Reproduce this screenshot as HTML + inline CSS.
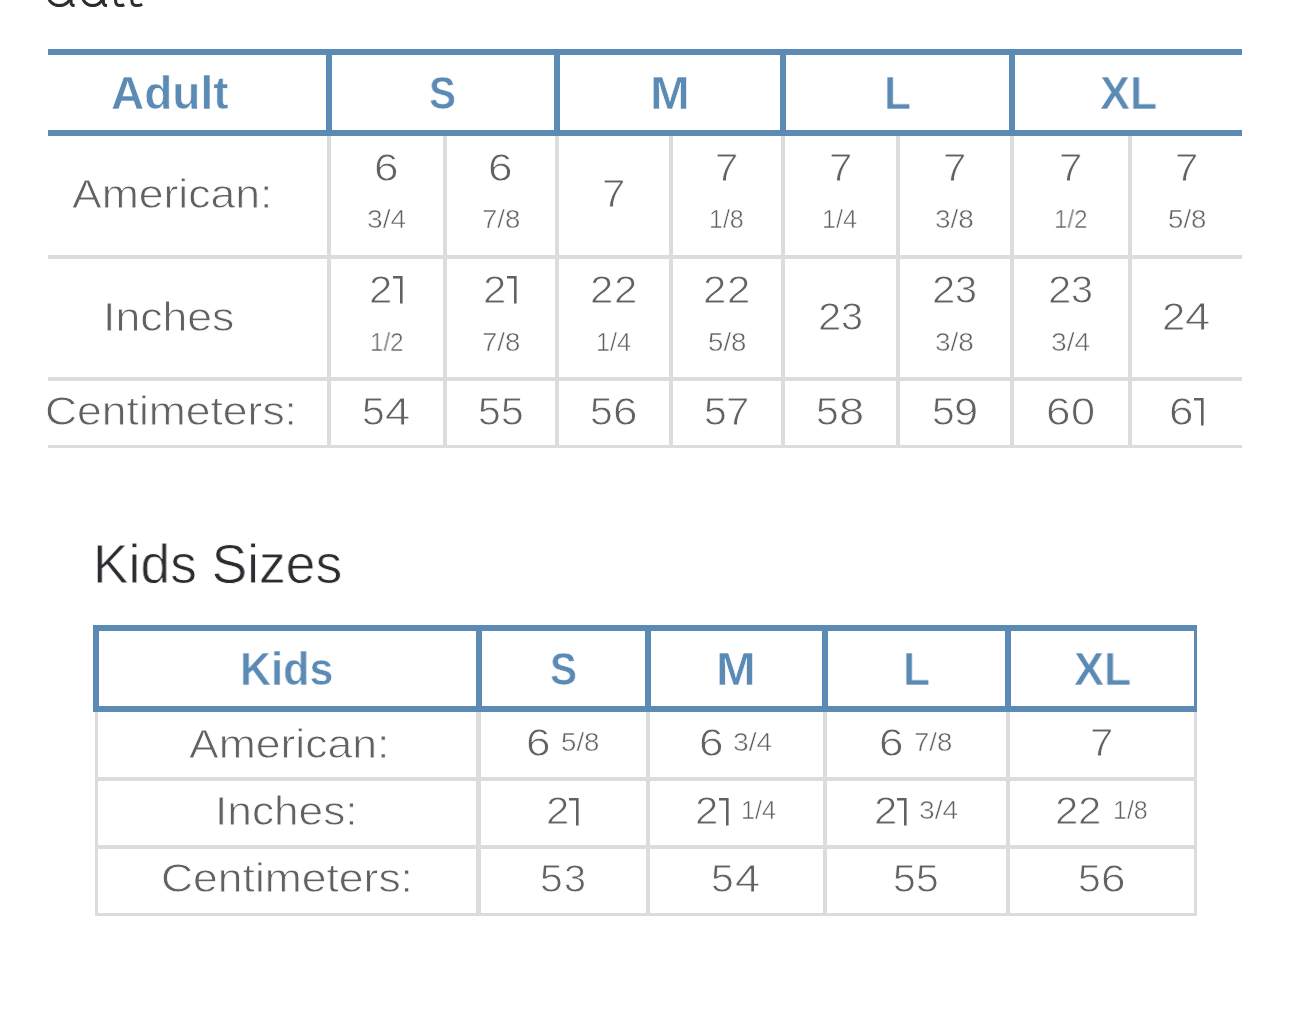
<!DOCTYPE html>
<html><head><meta charset="utf-8"><style>
html,body{margin:0;padding:0;background:#fff;width:1290px;height:1016px;overflow:hidden;}
body{position:relative;font-family:"Liberation Sans",sans-serif;}
div,span{position:absolute;}
span{line-height:1;white-space:nowrap;transform-origin:0 0;will-change:transform;}
.t{-webkit-text-stroke:0.8px #fff;}
.f{-webkit-text-stroke:0.5px #fff;}
.b{-webkit-text-stroke:0.6px #fff;}
.h{-webkit-text-stroke:0.8px #fff;}
</style></head><body>
<svg style="position:absolute;left:0;top:0" width="200" height="12" viewBox="0 0 200 12"><g fill="none" stroke="#2b2d30" stroke-width="3"><ellipse cx="59.4" cy="-4.6" rx="11.2" ry="10.2"/><path d="M70.9,-4 L71.1,3.2 Q71.5,5.6 74.6,5.6"/><ellipse cx="92.7" cy="-4.6" rx="10.4" ry="10.2"/><path d="M103.3,-4 L103.5,3.2 Q103.9,5.6 107,5.6"/><path d="M115.6,-4 L115.6,1 Q115.8,5.6 120,5.6 Q122.5,5.6 124.2,4.6"/><path d="M131.9,-4 L131.9,1 Q132.1,5.6 136.6,5.6 Q139.8,5.6 142.2,4.2"/></g></svg>
<div style="left:48px;top:49px;width:1194px;height:6px;background:#5b8ab5"></div>
<div style="left:48px;top:130px;width:1194px;height:6px;background:#5b8ab5"></div>
<div style="left:326px;top:49px;width:6px;height:87px;background:#5b8ab5"></div>
<div style="left:554px;top:49px;width:6px;height:87px;background:#5b8ab5"></div>
<div style="left:780px;top:49px;width:6px;height:87px;background:#5b8ab5"></div>
<div style="left:1009px;top:49px;width:6px;height:87px;background:#5b8ab5"></div>
<div style="left:327px;top:136px;width:4px;height:312px;background:#dcdcdc"></div>
<div style="left:443px;top:136px;width:4px;height:312px;background:#dcdcdc"></div>
<div style="left:555px;top:136px;width:4px;height:312px;background:#dcdcdc"></div>
<div style="left:669px;top:136px;width:4px;height:312px;background:#dcdcdc"></div>
<div style="left:781px;top:136px;width:4px;height:312px;background:#dcdcdc"></div>
<div style="left:896px;top:136px;width:4px;height:312px;background:#dcdcdc"></div>
<div style="left:1010px;top:136px;width:4px;height:312px;background:#dcdcdc"></div>
<div style="left:1128px;top:136px;width:4px;height:312px;background:#dcdcdc"></div>
<div style="left:48px;top:255px;width:1194px;height:4px;background:#dcdcdc"></div>
<div style="left:48px;top:377px;width:1194px;height:4px;background:#dcdcdc"></div>
<div style="left:48px;top:445px;width:1194px;height:3px;background:#dcdcdc"></div>
<span class="b" style="left:111.19px;top:70.68px;font-size:45.5px;font-weight:bold;color:#5b8ab5;transform:scaleX(1.0113);">Adult</span>
<span class="b" style="left:429.41px;top:70.68px;font-size:45.5px;font-weight:bold;color:#5b8ab5;transform:scaleX(0.8857);">S</span>
<span class="b" style="left:649.85px;top:70.68px;font-size:45.5px;font-weight:bold;color:#5b8ab5;transform:scaleX(1.0500);">M</span>
<span class="b" style="left:883.89px;top:70.68px;font-size:45.5px;font-weight:bold;color:#5b8ab5;transform:scaleX(0.9708);">L</span>
<span class="b" style="left:1100.21px;top:70.68px;font-size:45.5px;font-weight:bold;color:#5b8ab5;transform:scaleX(0.9875);">XL</span>
<span class="t" style="left:71.50px;top:173.94px;font-size:40px;color:#616161;transform:scaleX(1.1130);">American:</span>
<span class="t" style="left:103.34px;top:296.84px;font-size:40px;color:#616161;transform:scaleX(1.1150);">Inches</span>
<span class="t" style="left:44.78px;top:391.34px;font-size:40px;color:#616161;transform:scaleX(1.1113);">Centimeters:</span>
<span class="t" style="left:374.41px;top:148.91px;font-size:38.5px;color:#616161;transform:scaleX(1.1444);">6</span>
<span class="f" style="left:367.22px;top:207.34px;font-size:25px;color:#616161;transform:scaleX(1.1303);">3/4</span>
<span class="t" style="left:488.41px;top:148.91px;font-size:38.5px;color:#616161;transform:scaleX(1.1444);">6</span>
<span class="f" style="left:481.70px;top:207.34px;font-size:25px;color:#616161;transform:scaleX(1.1030);">7/8</span>
<span class="t" style="left:602.02px;top:175.21px;font-size:38.5px;color:#616161;transform:scaleX(1.0889);">7</span>
<span class="t" style="left:715.02px;top:148.91px;font-size:38.5px;color:#616161;transform:scaleX(1.0889);">7</span>
<span class="f" style="left:709.23px;top:207.34px;font-size:25px;color:#616161;transform:scaleX(0.9875);">1/8</span>
<span class="t" style="left:828.52px;top:148.91px;font-size:38.5px;color:#616161;transform:scaleX(1.0889);">7</span>
<span class="f" style="left:822.27px;top:207.34px;font-size:25px;color:#616161;transform:scaleX(1.0125);">1/4</span>
<span class="t" style="left:943.02px;top:148.91px;font-size:38.5px;color:#616161;transform:scaleX(1.0889);">7</span>
<span class="f" style="left:935.43px;top:207.34px;font-size:25px;color:#616161;transform:scaleX(1.1182);">3/8</span>
<span class="t" style="left:1059.02px;top:148.91px;font-size:38.5px;color:#616161;transform:scaleX(1.0889);">7</span>
<span class="f" style="left:1053.62px;top:207.34px;font-size:25px;color:#616161;transform:scaleX(0.9656);">1/2</span>
<span class="t" style="left:1175.02px;top:148.91px;font-size:38.5px;color:#616161;transform:scaleX(1.0889);">7</span>
<span class="f" style="left:1167.64px;top:207.34px;font-size:25px;color:#616161;transform:scaleX(1.1061);">5/8</span>
<span class="t" style="left:369.27px;top:271.01px;font-size:38.5px;color:#616161;transform:scaleX(1.0889);">2</span>
<svg style="position:absolute;left:390.95px;top:274.20px" width="16" height="33"><path d="M2,3.30 H10.30 V29.40" fill="none" stroke="#616161" stroke-width="2.6"/></svg>
<span class="f" style="left:369.62px;top:329.84px;font-size:25px;color:#616161;transform:scaleX(0.9656);">1/2</span>
<span class="t" style="left:483.27px;top:271.01px;font-size:38.5px;color:#616161;transform:scaleX(1.0889);">2</span>
<svg style="position:absolute;left:504.95px;top:274.20px" width="16" height="33"><path d="M2,3.30 H10.30 V29.40" fill="none" stroke="#616161" stroke-width="2.6"/></svg>
<span class="f" style="left:481.70px;top:329.84px;font-size:25px;color:#616161;transform:scaleX(1.1030);">7/8</span>
<span class="t" style="left:590.27px;top:271.01px;font-size:38.5px;color:#616161;transform:scaleX(1.0889);">2</span>
<span class="t" style="left:613.77px;top:271.01px;font-size:38.5px;color:#616161;transform:scaleX(1.0889);">2</span>
<span class="f" style="left:595.77px;top:329.84px;font-size:25px;color:#616161;transform:scaleX(1.0125);">1/4</span>
<span class="t" style="left:703.27px;top:271.01px;font-size:38.5px;color:#616161;transform:scaleX(1.0889);">2</span>
<span class="t" style="left:726.77px;top:271.01px;font-size:38.5px;color:#616161;transform:scaleX(1.0889);">2</span>
<span class="f" style="left:707.64px;top:329.84px;font-size:25px;color:#616161;transform:scaleX(1.1061);">5/8</span>
<span class="t" style="left:817.77px;top:297.81px;font-size:38.5px;color:#616161;transform:scaleX(1.0889);">2</span>
<span class="t" style="left:840.52px;top:297.81px;font-size:38.5px;color:#616161;transform:scaleX(1.0263);">3</span>
<span class="t" style="left:932.27px;top:271.01px;font-size:38.5px;color:#616161;transform:scaleX(1.0889);">2</span>
<span class="t" style="left:955.02px;top:271.01px;font-size:38.5px;color:#616161;transform:scaleX(1.0263);">3</span>
<span class="f" style="left:935.43px;top:329.84px;font-size:25px;color:#616161;transform:scaleX(1.1182);">3/8</span>
<span class="t" style="left:1048.27px;top:271.01px;font-size:38.5px;color:#616161;transform:scaleX(1.0889);">2</span>
<span class="t" style="left:1071.02px;top:271.01px;font-size:38.5px;color:#616161;transform:scaleX(1.0263);">3</span>
<span class="f" style="left:1051.22px;top:329.84px;font-size:25px;color:#616161;transform:scaleX(1.1303);">3/4</span>
<span class="t" style="left:1162.42px;top:297.81px;font-size:38.5px;color:#616161;transform:scaleX(1.0889);">2</span>
<span class="t" style="left:1184.62px;top:297.81px;font-size:38.5px;color:#616161;transform:scaleX(1.1800);">4</span>
<span class="t" style="left:361.73px;top:392.61px;font-size:38.5px;color:#616161;transform:scaleX(1.0611);">5</span>
<span class="t" style="left:385.37px;top:392.61px;font-size:38.5px;color:#616161;transform:scaleX(1.1800);">4</span>
<span class="t" style="left:477.93px;top:392.61px;font-size:38.5px;color:#616161;transform:scaleX(1.0611);">5</span>
<span class="t" style="left:500.73px;top:392.61px;font-size:38.5px;color:#616161;transform:scaleX(1.0611);">5</span>
<span class="t" style="left:589.93px;top:392.61px;font-size:38.5px;color:#616161;transform:scaleX(1.0611);">5</span>
<span class="t" style="left:613.06px;top:392.61px;font-size:38.5px;color:#616161;transform:scaleX(1.1444);">6</span>
<span class="t" style="left:703.93px;top:392.61px;font-size:38.5px;color:#616161;transform:scaleX(1.0611);">5</span>
<span class="t" style="left:726.17px;top:392.61px;font-size:38.5px;color:#616161;transform:scaleX(1.0889);">7</span>
<span class="t" style="left:816.33px;top:392.61px;font-size:38.5px;color:#616161;transform:scaleX(1.0611);">5</span>
<span class="t" style="left:838.99px;top:392.61px;font-size:38.5px;color:#616161;transform:scaleX(1.1778);">8</span>
<span class="t" style="left:931.73px;top:392.61px;font-size:38.5px;color:#616161;transform:scaleX(1.0611);">5</span>
<span class="t" style="left:953.59px;top:392.61px;font-size:38.5px;color:#616161;transform:scaleX(1.1278);">9</span>
<span class="t" style="left:1046.21px;top:392.61px;font-size:38.5px;color:#616161;transform:scaleX(1.1444);">6</span>
<span class="t" style="left:1070.97px;top:392.61px;font-size:38.5px;color:#616161;transform:scaleX(1.1263);">0</span>
<span class="t" style="left:1168.56px;top:392.61px;font-size:38.5px;color:#616161;transform:scaleX(1.1444);">6</span>
<svg style="position:absolute;left:1191.55px;top:395.80px" width="16" height="33"><path d="M2,3.30 H10.30 V29.40" fill="none" stroke="#616161" stroke-width="2.6"/></svg>
<span class="h" style="left:92.79px;top:536.40px;font-size:56px;color:#2b2d30;transform:scaleX(0.9529);">Kids Sizes</span>
<div style="left:93px;top:625px;width:1104px;height:6px;background:#5b8ab5"></div>
<div style="left:93px;top:706px;width:1104px;height:6px;background:#5b8ab5"></div>
<div style="left:93px;top:625px;width:6px;height:87px;background:#5b8ab5"></div>
<div style="left:1194px;top:625px;width:3px;height:87px;background:#5b8ab5"></div>
<div style="left:476px;top:625px;width:6px;height:87px;background:#5b8ab5"></div>
<div style="left:645px;top:625px;width:6px;height:87px;background:#5b8ab5"></div>
<div style="left:822px;top:625px;width:6px;height:87px;background:#5b8ab5"></div>
<div style="left:1005px;top:625px;width:6px;height:87px;background:#5b8ab5"></div>
<div style="left:95px;top:712px;width:3px;height:204px;background:#dcdcdc"></div>
<div style="left:1194px;top:712px;width:3px;height:204px;background:#dcdcdc"></div>
<div style="left:476px;top:712px;width:5px;height:204px;background:#dcdcdc"></div>
<div style="left:646px;top:712px;width:4px;height:204px;background:#dcdcdc"></div>
<div style="left:823px;top:712px;width:4px;height:204px;background:#dcdcdc"></div>
<div style="left:1006px;top:712px;width:4px;height:204px;background:#dcdcdc"></div>
<div style="left:95px;top:777px;width:1102px;height:4px;background:#dcdcdc"></div>
<div style="left:95px;top:845px;width:1102px;height:4px;background:#dcdcdc"></div>
<div style="left:95px;top:913px;width:1102px;height:3px;background:#dcdcdc"></div>
<span class="b" style="left:239.96px;top:646.78px;font-size:45.5px;font-weight:bold;color:#5b8ab5;transform:scaleX(0.9479);">Kids</span>
<span class="b" style="left:549.51px;top:646.78px;font-size:45.5px;font-weight:bold;color:#5b8ab5;transform:scaleX(0.8857);">S</span>
<span class="b" style="left:715.65px;top:646.78px;font-size:45.5px;font-weight:bold;color:#5b8ab5;transform:scaleX(1.0500);">M</span>
<span class="b" style="left:903.09px;top:646.78px;font-size:45.5px;font-weight:bold;color:#5b8ab5;transform:scaleX(0.9708);">L</span>
<span class="b" style="left:1073.81px;top:646.78px;font-size:45.5px;font-weight:bold;color:#5b8ab5;transform:scaleX(0.9875);">XL</span>
<span class="t" style="left:188.80px;top:723.84px;font-size:40px;color:#616161;transform:scaleX(1.1130);">American:</span>
<span class="t" style="left:215.38px;top:790.54px;font-size:40px;color:#616161;transform:scaleX(1.1057);">Inches:</span>
<span class="t" style="left:161.08px;top:858.34px;font-size:40px;color:#616161;transform:scaleX(1.1113);">Centimeters:</span>
<span class="t" style="left:526.31px;top:724.41px;font-size:38.5px;color:#616161;transform:scaleX(1.1444);">6</span>
<span class="f" style="left:560.79px;top:729.64px;font-size:25px;color:#616161;transform:scaleX(1.1061);">5/8</span>
<span class="t" style="left:698.91px;top:724.41px;font-size:38.5px;color:#616161;transform:scaleX(1.1444);">6</span>
<span class="f" style="left:733.37px;top:729.64px;font-size:25px;color:#616161;transform:scaleX(1.1303);">3/4</span>
<span class="t" style="left:879.36px;top:724.41px;font-size:38.5px;color:#616161;transform:scaleX(1.1444);">6</span>
<span class="f" style="left:913.85px;top:729.64px;font-size:25px;color:#616161;transform:scaleX(1.1030);">7/8</span>
<span class="t" style="left:1090.02px;top:724.41px;font-size:38.5px;color:#616161;transform:scaleX(1.0889);">7</span>
<span class="t" style="left:545.77px;top:792.31px;font-size:38.5px;color:#616161;transform:scaleX(1.0889);">2</span>
<svg style="position:absolute;left:567.45px;top:795.50px" width="16" height="33"><path d="M2,3.30 H10.30 V29.40" fill="none" stroke="#616161" stroke-width="2.6"/></svg>
<span class="t" style="left:695.02px;top:792.31px;font-size:38.5px;color:#616161;transform:scaleX(1.0889);">2</span>
<svg style="position:absolute;left:716.70px;top:795.50px" width="16" height="33"><path d="M2,3.30 H10.30 V29.40" fill="none" stroke="#616161" stroke-width="2.6"/></svg>
<span class="f" style="left:741.38px;top:797.54px;font-size:25px;color:#616161;transform:scaleX(1.0125);">1/4</span>
<span class="t" style="left:873.77px;top:792.31px;font-size:38.5px;color:#616161;transform:scaleX(1.0889);">2</span>
<svg style="position:absolute;left:895.45px;top:795.50px" width="16" height="33"><path d="M2,3.30 H10.30 V29.40" fill="none" stroke="#616161" stroke-width="2.6"/></svg>
<span class="f" style="left:918.62px;top:797.54px;font-size:25px;color:#616161;transform:scaleX(1.1303);">3/4</span>
<span class="t" style="left:1054.92px;top:792.31px;font-size:38.5px;color:#616161;transform:scaleX(1.0889);">2</span>
<span class="t" style="left:1078.42px;top:792.31px;font-size:38.5px;color:#616161;transform:scaleX(1.0889);">2</span>
<span class="f" style="left:1113.32px;top:797.54px;font-size:25px;color:#616161;transform:scaleX(0.9875);">1/8</span>
<span class="t" style="left:540.43px;top:859.61px;font-size:38.5px;color:#616161;transform:scaleX(1.0611);">5</span>
<span class="t" style="left:563.92px;top:859.61px;font-size:38.5px;color:#616161;transform:scaleX(1.0263);">3</span>
<span class="t" style="left:711.23px;top:859.61px;font-size:38.5px;color:#616161;transform:scaleX(1.0611);">5</span>
<span class="t" style="left:734.87px;top:859.61px;font-size:38.5px;color:#616161;transform:scaleX(1.1800);">4</span>
<span class="t" style="left:893.43px;top:859.61px;font-size:38.5px;color:#616161;transform:scaleX(1.0611);">5</span>
<span class="t" style="left:916.23px;top:859.61px;font-size:38.5px;color:#616161;transform:scaleX(1.0611);">5</span>
<span class="t" style="left:1077.93px;top:859.61px;font-size:38.5px;color:#616161;transform:scaleX(1.0611);">5</span>
<span class="t" style="left:1101.06px;top:859.61px;font-size:38.5px;color:#616161;transform:scaleX(1.1444);">6</span>
</body></html>
